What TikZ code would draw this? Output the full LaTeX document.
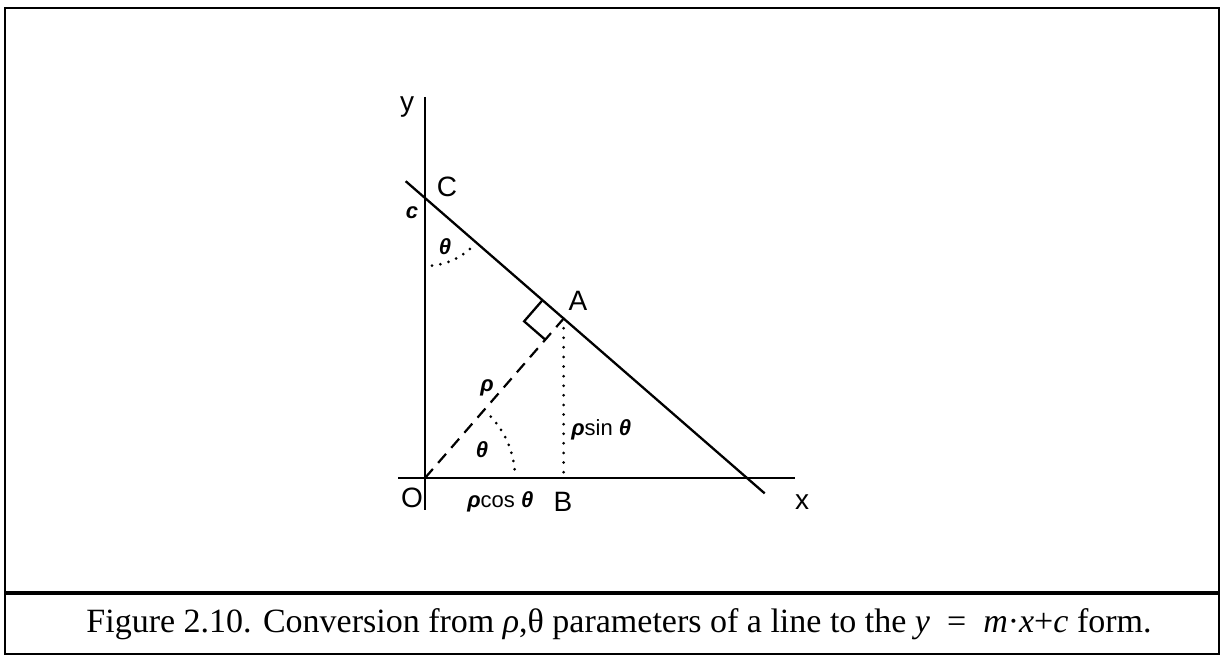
\documentclass[tikz,border=0pt]{standalone}
\usepackage{fontspec}
\setmainfont{Liberation Serif}
\newfontfamily\lab{Liberation Sans}
\usetikzlibrary{calc}
\begin{document}
\begin{tikzpicture}[x=0.5pt,y=-0.5pt,
  frame/.style={line width=1.2pt},
  geo/.style={line width=1.15pt},
  dashline/.style={line width=1.1pt,dash pattern=on 6pt off 4pt},
  dotline/.style={line width=1.5pt,line cap=round,dash pattern=on 0pt off 4.8pt},
  dotarc/.style={line width=1.5pt,line cap=round,dash pattern=on 0pt off 4.2pt},
  letter/.style={inner sep=0pt,font=\lab\fontsize{14}{16}\selectfont},
  greek/.style={inner sep=0pt,font=\lab\bfseries\itshape\fontsize{11}{13}\selectfont}]
\useasboundingbox (0,0) rectangle (1221,656);
% frame
\draw[frame] (5,8) rectangle (1219,654);
\draw[line width=1.6pt] (5,593) -- (1219,593);
% geometry
\coordinate (O) at (425,478);
\coordinate (C) at (425,198);
\coordinate (X) at (747,478);
\coordinate (A) at ($(C)!(O)!(X)$);
\coordinate (B) at (A |- O);
\coordinate (Ytop) at (425,97);
\coordinate (Ybot) at (425,510);
\coordinate (Xl) at (398,478);
\coordinate (Xr) at (795,478);
\draw[geo] (Ytop) -- (Ybot);
\draw[geo] (Xl) -- (Xr);
\draw[geo] ($(C)!-0.06!(X)$) -- ($(X)!-0.055!(C)$);
\draw[dashline] (O) -- (A);
\draw[dotline] (A) -- (B);
\coordinate (R1) at ($(A)!14pt!(C)$);
\coordinate (R2) at ($(A)!14pt!(O)$);
\draw[geo] (R1) -- ($(R1)+(R2)-(A)$) -- (R2);
\draw[dotarc] ($(O)+(43:45pt)$) arc[start angle=43,end angle=5,radius=45pt];
\draw[dotarc] ($(C)+(-84:34pt)$) arc[start angle=-84,end angle=-47,radius=34pt];
% labels
\node[letter] (ly) at (407,107) {y};
\node[letter] (lC) at (447,187) {C};
\node[letter] (lA) at (578,301) {A};
\node[letter] (lO) at (412,498) {O};
\node[letter] (lB) at (563,502) {B};
\node[letter] (lx) at (802,502) {x};
\node[greek] (lc) at (412,213) {c};
\node[greek] (lt1) at (445,247) {θ};
\node[greek] (lr) at (487,388) {ρ};
\node[greek] (lt2) at (482,450) {θ};
\node[greek,anchor=west] (ls) at (571,430) {ρ{\mdseries\upshape sin} θ};
\node[greek,anchor=west] (lcos) at (467,502) {ρ{\mdseries\upshape cos} θ};
% caption
\node[inner sep=0pt,anchor=base,font=\fontsize{17}{19}\selectfont] (cap) at (619,633)
  {Figure 2.10. Conversion from \textit{ρ},θ parameters of a line to the \textit{y} \ = \ \textit{m}·\textit{x}+\textit{c} form.};
\end{tikzpicture}
\end{document}
